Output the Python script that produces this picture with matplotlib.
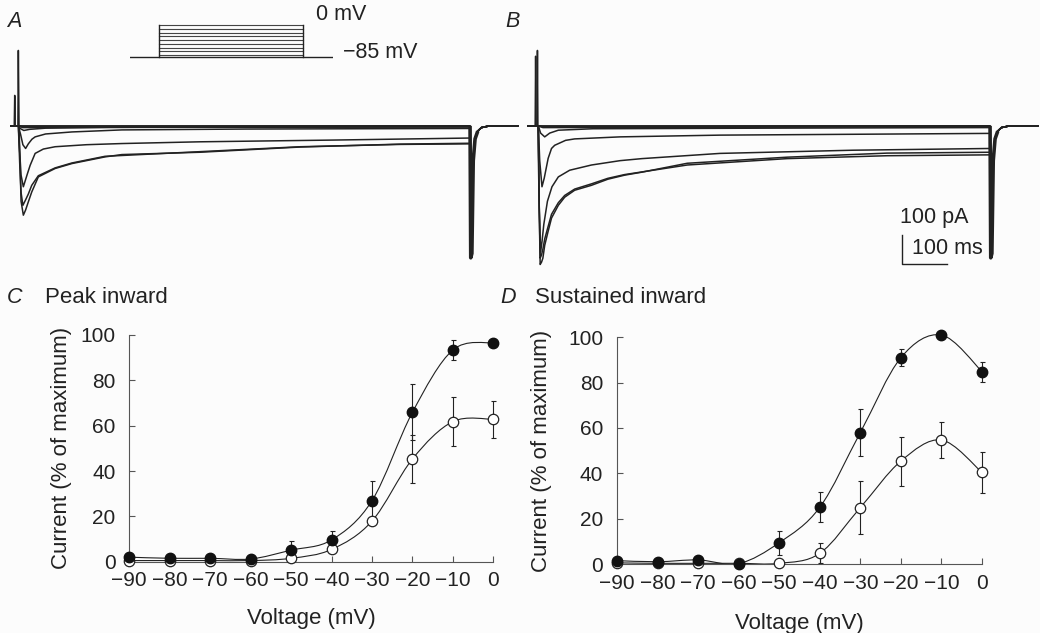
import numpy as np
import matplotlib
matplotlib.use('Agg')
from matplotlib import pyplot as plt
from matplotlib.path import Path
from matplotlib.patches import PathPatch

plt.rcParams['font.family'] = ['Liberation Sans', 'DejaVu Sans']
plt.rcParams['axes.unicode_minus'] = True

INK = '#222222'
AXC = '#555555'

# ---- current traces, panel A (time in ms, current in pA) ----
a_traces = [
    ([-16, -1, 0, 1.5, 6, 11, 16, 22, 29.5, 44, 81, 118, 191, 228, 400, 621, 841, 995],
     [0, 0, 260, 0, -260, -308, -290, -262, -228, -176, -147, -130, -107, -99, -91, -73, -63, -60]),
    ([-16, 0, 3, 6, 10, 16, 22, 29.5, 44, 81, 118, 191, 400, 621, 841, 995],
     [0, 0, -130, -230, -274, -255, -235, -205, -172, -145, -128, -105, -89, -72, -64, -62]),
    ([-16, 0, 3, 6, 11, 15, 20, 26, 37, 55, 81, 150, 228, 400, 694, 995],
     [0, 0, -90, -170, -210, -190, -165, -136, -95, -80, -72, -65, -61, -55, -49, -42]),
    ([-16, 0, 5, 10, 16, 22, 30, 37, 60, 118, 228, 500, 995],
     [0, 0, -30, -65, -78, -62, -46, -38, -28, -21, -14, -11, -9]),
    ([-16, -9, -8, -7, 0, 5, 12, 25, 60, 200, 995],
     [0, 0, 105, 0, 0, -10, -16, -12, -8, -5, -4]),
    ([-16, 0, 10, 995], [0, 0, -4, -2]),
    ([-16, 0, 10, 995], [0, 0, -2, 0]),
    ([-16, 0, 10, 995], [0, 0, 0, 0]),
    ([-16, 0, 10, 995], [0, 0, -6, -3]),
]

# ---- current traces, panel B ----
b_traces = [
    ([-23, -3, -2, -1, 2, 4, 7, 10, 14, 21, 29, 44, 58, 80, 117, 153, 190, 227, 328, 548, 768, 995],
     [0, 0, 260, 0, -300, -478, -470, -456, -412, -367, -318, -274, -246, -222, -205, -184, -170, -160, -129, -108, -94, -91]),
    ([-23, 0, 2, 4, 7, 10, 14, 21, 29, 44, 58, 80, 117, 153, 190, 328, 548, 768, 995],
     [0, 0, -280, -456, -445, -425, -390, -350, -305, -265, -240, -218, -200, -181, -168, -135, -113, -103, -100]),
    ([-23, -7, -6, -5, 0, 2, 5, 8, 12, 20, 30, 44, 69, 117, 180, 228, 400, 693, 995],
     [0, 0, 240, 0, 0, -280, -435, -400, -340, -260, -210, -176, -153, -135, -120, -113, -95, -84, -78]),
    ([-23, 0, 3, 8, 13, 21.6, 29, 36, 60, 80, 180, 400, 700, 995],
     [0, 0, -120, -210, -180, -112, -78, -67, -50, -45, -38, -32, -29, -26]),
    ([-23, 0, 5, 14, 25, 44, 120, 500, 995],
     [0, 0, -25, -38, -25, -15, -10, -8, -6]),
    ([-23, 0, 10, 995], [0, 0, -4, -2]),
    ([-23, 0, 10, 995], [0, 0, -2, 0]),
    ([-23, 0, 10, 995], [0, 0, 0, 0]),
    ([-23, 0, 10, 995], [0, 0, -6, -3]),
]

# tail current after the step (shared by all traces)
tail_t = [996.5, 999, 1002, 1006, 1012, 1020, 1035, 1100]
tail_i = [-455, -440, -120, -45, -18, -6, -1, 0]

# voltage protocol
step_levels = [-80, -70, -60, -50, -40, -30, -20, -10, 0]
holding = -85

# ---- I-V data (panels C and D) ----
volt = [-90, -80, -70, -60, -50, -40, -30, -20, -10, 0]
c_filled = [2.0, 1.5, 1.5, 1.2, 5.1, 9.6, 26.9, 65.9, 93.4, 96.6]
c_filled_err = [0, 0, 0, 0, 4.0, 4.0, 8.7, 12.3, 4.4, 0]
c_open = [0.5, 0.5, 0.5, 0.5, 1.5, 5.4, 17.9, 45.3, 61.8, 62.8]
c_open_err = [0, 0, 0, 0, 0, 0, 0, 10.7, 10.8, 8.2]
d_filled = [1.5, 1.0, 1.8, 0.2, 9.4, 25.0, 58.0, 91.0, 101.0, 84.9]
d_filled_err = [0, 0, 0, 0, 5.3, 6.6, 10.2, 3.7, 0, 4.4]
d_open = [0.5, 0.3, 0.3, 0.3, 0.3, 4.7, 24.9, 45.4, 54.7, 40.4]
d_open_err = [0, 0, 0, 0, 0, 4.4, 11.7, 10.8, 8.0, 9.0]

W, H = 1040, 633


def px_box(l, t, r, b):
    return [l / W, 1 - b / H, (r - l) / W, (b - t) / H]


def smooth_path(x, y):
    # cubic bezier through the points, drawn by matplotlib's path machinery
    pts = np.column_stack([x, y]).astype(float)
    n = len(pts)
    verts = [pts[0]]
    codes = [Path.MOVETO]
    for i in range(n - 1):
        p0, p1 = pts[max(i - 1, 0)], pts[i]
        p2, p3 = pts[i + 1], pts[min(i + 2, n - 1)]
        verts += [p1 + (p2 - p0) / 6, p2 - (p3 - p1) / 6, p2]
        codes += [Path.CURVE4] * 3
    return Path(verts, codes)


fig = plt.figure(figsize=(W / 100, H / 100), dpi=100, facecolor='#fcfcfc')

# ---- panels A and B ----
for box, traces in [((7, 40, 520, 270), a_traces), ((527, 40, 1040, 270), b_traces)]:
    ax = fig.add_axes(px_box(*box))
    ax.set_xlim(-25, 1105)
    ax.set_ylim(-497, 296)
    ax.axis('off')
    for t, i in traces:
        ax.plot(list(t) + tail_t, list(i) + tail_i, color=INK, lw=1.1)
    # the overlapping tails look heavy in the original
    ax.plot([995] + tail_t[:5], [0] + tail_i[:5], color=INK, lw=2.6, solid_capstyle='butt')
    if traces is b_traces:
        ax.plot([800, 800, 900], [-377, -477, -477], color=INK, lw=1.0)
        ax.text(797, -316, '100 pA', fontsize=15.5, color=INK, ha='left', va='center')
        ax.text(822, -422, '100 ms', fontsize=15.5, color=INK, ha='left', va='center')

# voltage protocol inset
axp = fig.add_axes(px_box(130, 22, 333, 60))
axp.set_xlim(-200, 1210)
axp.set_ylim(-93, 8)
axp.axis('off')
axp.plot([-200, 1210], [holding, holding], color=INK, lw=1.0)
for v in step_levels:
    axp.plot([0, 1000], [v, v], color='#444444', lw=0.8)
axp.plot([0, 0], [holding, 0], color=INK, lw=1.0)
axp.plot([1000, 1000], [holding, 0], color=INK, lw=1.0)
fig.text(316 / W, 1 - 15 / H, '0 mV', fontsize=15.5, color=INK, ha='left', va='center')
fig.text(343 / W, 1 - 52 / H, '\u221285 mV', fontsize=15.5, color=INK, ha='left', va='center')

# ---- panels C and D ----
iv_panels = [
    ((129.3, 335, 493.3, 561.7), c_filled, c_filled_err, c_open, c_open_err, -0.157, -0.204),
    ((617, 337.3, 982, 564), d_filled, d_filled_err, d_open, d_open_err, -0.178, -0.216),
]
for box, yf, ef, yo, eo, ylab_x, xlab_y in iv_panels:
    ax = fig.add_axes(px_box(*box))
    ax.set_facecolor('none')
    ax.set_xlim(-90, 0)
    ax.set_ylim(0, 100)
    for s in ['top', 'right']:
        ax.spines[s].set_visible(False)
    for s in ['left', 'bottom']:
        ax.spines[s].set_color(AXC)
        ax.spines[s].set_linewidth(0.8)
    ax.set_xticks(volt)
    ax.set_yticks([0, 20, 40, 60, 80, 100])
    ax.tick_params(direction='in', length=4, width=0.8, color=AXC, labelsize=15,
                   labelcolor=INK)
    ax.tick_params(axis='y', pad=10)
    ax.tick_params(axis='x', pad=7)
    for yy in (yf, yo):
        ax.add_patch(PathPatch(smooth_path(volt, yy), facecolor='none', edgecolor=INK,
                               lw=0.8, clip_on=False, zorder=2))
    ax.errorbar(volt, yf, yerr=ef, fmt='none', ecolor=INK, elinewidth=0.8, capsize=1.8,
                capthick=0.8, zorder=3, clip_on=False)
    ax.errorbar(volt, yo, yerr=eo, fmt='none', ecolor=INK, elinewidth=0.8, capsize=1.8,
                capthick=0.8, zorder=3, clip_on=False)
    ax.plot(volt, yo, 'o', ms=7.5, mfc='white', mec=INK, mew=0.9, ls='none',
            zorder=4, clip_on=False)
    ax.plot(volt, yf, 'o', ms=7.5, mfc='#111111', mec='#111111', ls='none',
            zorder=5, clip_on=False)
    ax.set_ylabel('Current (% of maximum)', fontsize=16, color=INK)
    ax.yaxis.set_label_coords(ylab_x, 0.5)
    ax.set_xlabel('Voltage (mV)', fontsize=16, color=INK)
    ax.xaxis.set_label_coords(0.5, xlab_y)

# panel letters and titles
for x, y, s in [(14, 21.5, 'A'), (513, 21.5, 'B'), (15, 297.5, 'C'), (508, 297.5, 'D')]:
    fig.text(x / W, 1 - y / H, s, fontsize=15.5, style='italic', color=INK,
             ha='center', va='center')
fig.text(45 / W, 1 - 297.5 / H, 'Peak inward', fontsize=16, color=INK, ha='left', va='center')
fig.text(535 / W, 1 - 297 / H, 'Sustained inward', fontsize=16, color=INK, ha='left', va='center')

fig.savefig('out.png', dpi=100, facecolor=fig.get_facecolor())
